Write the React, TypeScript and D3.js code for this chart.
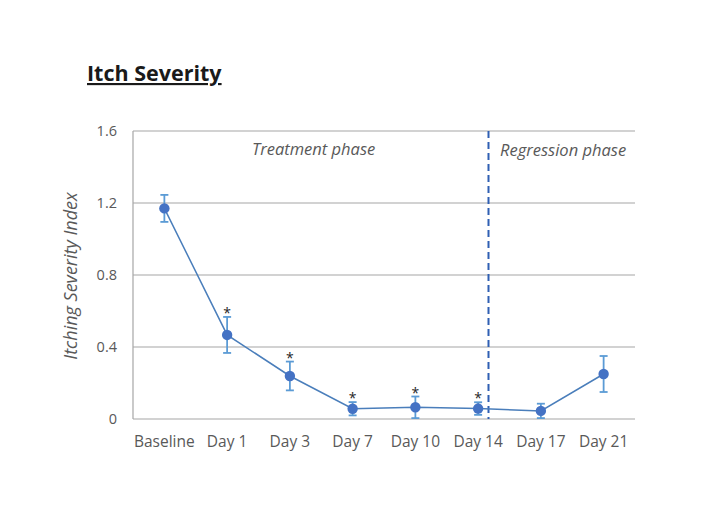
import React from "react";
import * as d3 from "d3";

const categories = ["Baseline", "Day 1", "Day 3", "Day 7", "Day 10", "Day 14", "Day 17", "Day 21"];
const means = [1.17, 0.467, 0.239, 0.057, 0.065, 0.058, 0.045, 0.25];
const errors = [0.075, 0.1, 0.08, 0.037, 0.06, 0.035, 0.04, 0.1];
const significant = [false, true, true, true, true, true, false, false];
const yTicks = [0, 0.4, 0.8, 1.2, 1.6];
const yTickLabels = ["0", "0.4", "0.8", "1.2", "1.6"];

export default function App() {
  const W = 708, H = 532;
  const left = 133, right = 635, top = 131, bottom = 419;
  const x = d3.scaleBand<string>().domain(categories).range([left, right]).padding(0);
  const y = d3.scaleLinear().domain([0, 1.6]).range([bottom, top]);
  const cx = (c: string) => (x(c) as number) + x.bandwidth() / 2;
  const line = d3.line<number>().x((_, i) => cx(categories[i])).y((d) => y(d));
  const dividerX = (cx("Day 14") + cx("Day 17")) / 2 - 21;
  const font = "'Open Sans', sans-serif";
  return (
    <svg width={W} height={H} style={{ position: "absolute", left: 0, top: 0, background: "#fff" }} fontFamily={font}>
      <rect width={W} height={H} fill="#fff" />
      <text x={87} y={81} fontSize={21.5} fontWeight="bold" fill="#1a1a1a" textDecoration="underline">Itch Severity</text>
      {yTicks.map((t, i) => (
        <g key={i}>
          <line x1={left} x2={right} y1={y(t)} y2={y(t)} stroke="#a6a6a6" strokeWidth={1.2} />
          <text x={117} y={y(t) + 5} textAnchor="end" fontSize={14.5} fill="#595959">{yTickLabels[i]}</text>
        </g>
      ))}
      <line x1={left} x2={left} y1={top} y2={bottom} stroke="#a6a6a6" strokeWidth={1.2} />
      {categories.map((c) => (
        <text key={c} x={cx(c)} y={447} textAnchor="middle" fontSize={15.5} fill="#595959">{c}</text>
      ))}
      <text transform={`translate(77,276) rotate(-90)`} textAnchor="middle" fontSize={18} fontStyle="italic" fill="#595959">Itching Severity Index</text>
      <text x={252} y={155} fontSize={16.5} fontStyle="italic" fill="#595959">Treatment phase</text>
      <text x={500} y={156} fontSize={16.5} fontStyle="italic" fill="#595959">Regression phase</text>
      <line x1={dividerX} x2={dividerX} y1={top} y2={bottom} stroke="#2f5fb3" strokeWidth={2} strokeDasharray="7,4" />
      <path d={line(means) || ""} fill="none" stroke="#4a7ebb" strokeWidth={1.5} />
      {categories.map((c, i) => {
        const px = cx(c);
        const yt = y(means[i] + errors[i]);
        const yb = y(Math.max(0, means[i] - errors[i]));
        return (
          <g key={c}>
            <line x1={px} x2={px} y1={yt} y2={yb} stroke="#5b9bd5" strokeWidth={1.8} />
            <line x1={px - 4} x2={px + 4} y1={yt} y2={yt} stroke="#5b9bd5" strokeWidth={1.8} />
            <line x1={px - 4} x2={px + 4} y1={yb} y2={yb} stroke="#5b9bd5" strokeWidth={1.8} />
            <circle cx={px} cy={y(means[i])} r={5.2} fill="#4472c4" />
            {significant[i] && (
              <text x={px} y={yt + 1} textAnchor="middle" fontSize={14} fill="#262626">*</text>
            )}
          </g>
        );
      })}
    </svg>
  );
}
